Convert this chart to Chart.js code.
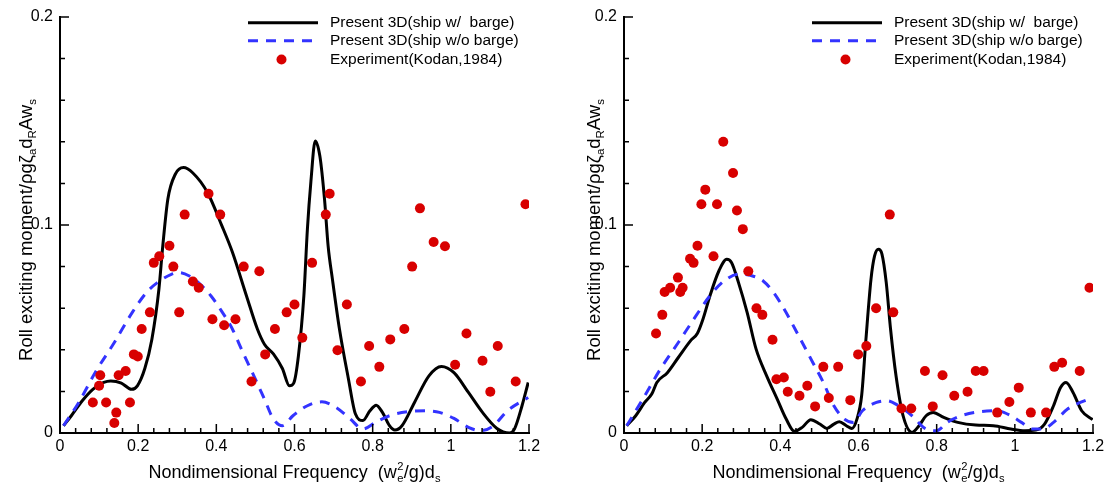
<!DOCTYPE html>
<html><head><meta charset="utf-8">
<script src="https://cdn.jsdelivr.net/npm/chart.js@4.4.1/dist/chart.umd.min.js"></script>
<style>
html,body{margin:0;padding:0;background:#fff;}
#wrap{position:relative;width:1109px;height:488px;overflow:hidden;background:#fff;}
canvas{position:absolute;top:0;}
</style></head><body>
<div id="wrap">
<canvas id="c1" width="555" height="488" style="left:0px"></canvas>
<canvas id="c2" width="554" height="488" style="left:555px"></canvas>
</div>
<script>
// ---------- tick labels ----------
const xTickValues = [0, 0.2, 0.4, 0.6, 0.8, 1.0, 1.2];
const xTickLabels = ['0', '0.2', '0.4', '0.6', '0.8', '1', '1.2'];
const yTickValues = [0, 0.1, 0.2];
const yTickLabels = ['0', '0.1', '0.2'];

// ---------- series names ----------
const seriesNames = ['Present 3D(ship w/  barge)', 'Present 3D(ship w/o barge)', 'Experiment(Kodan,1984)'];

// ---------- LEFT panel ----------
const leftWithX = [0.009,0.029,0.057,0.084,0.112,0.130,0.157,0.183,0.198,0.217,0.235,0.253,0.263,0.276,0.295,0.316,0.340,0.377,0.414,0.441,0.477,0.505,0.523,0.546,0.569,0.587,0.598,0.610,0.624,0.633,0.642,0.653,0.665,0.677,0.686,0.697,0.715,0.738,0.756,0.775,0.793,0.809,0.825,0.843,0.857,0.875,0.907,0.944,0.976,1.008,1.045,1.081,1.118,1.150,1.163,1.182,1.198];
const leftWithY = [0.0035,0.0083,0.0155,0.021,0.0243,0.025,0.024,0.021,0.0227,0.031,0.045,0.069,0.090,0.1125,0.1244,0.1276,0.125,0.1157,0.0997,0.087,0.066,0.050,0.0427,0.038,0.031,0.0227,0.024,0.037,0.066,0.098,0.121,0.1404,0.133,0.112,0.090,0.074,0.050,0.026,0.0091,0.006,0.0107,0.0134,0.0099,0.0035,0.0014,0.0035,0.0147,0.0275,0.032,0.029,0.0195,0.0099,0.0022,0.0,0.002,0.013,0.0243];

const leftWithoutX = [0.009,0.048,0.093,0.139,0.185,0.221,0.249,0.285,0.304,0.331,0.359,0.386,0.413,0.441,0.468,0.496,0.523,0.546,0.569,0.596,0.633,0.670,0.706,0.743,0.775,0.807,0.843,0.889,0.935,0.971,1.008,1.045,1.077,1.109,1.145,1.198];
const leftWithoutY = [0.0035,0.0147,0.030,0.0435,0.058,0.0675,0.0723,0.0763,0.0771,0.0755,0.0715,0.066,0.0587,0.050,0.0387,0.0275,0.0163,0.0067,0.0035,0.0083,0.0131,0.015,0.0123,0.0067,0.0019,0.0051,0.0083,0.0102,0.0107,0.0099,0.007,0.0027,0.0011,0.0035,0.0107,0.0171];

const leftExpX = [0.084,0.100,0.103,0.118,0.139,0.144,0.150,0.168,0.179,0.189,0.199,0.209,0.230,0.240,0.254,0.280,0.290,0.305,0.319,0.340,0.355,0.380,0.390,0.410,0.420,0.449,0.470,0.490,0.510,0.525,0.550,0.580,0.600,0.620,0.645,0.680,0.690,0.710,0.734,0.770,0.791,0.817,0.845,0.881,0.901,0.921,0.956,0.985,1.011,1.040,1.081,1.101,1.120,1.166,1.191];
const leftExpY = [0.0147,0.0227,0.0278,0.0147,0.0048,0.0098,0.0278,0.0298,0.0147,0.0378,0.0368,0.050,0.058,0.0818,0.085,0.090,0.080,0.058,0.105,0.0728,0.0698,0.115,0.0547,0.105,0.0518,0.0547,0.080,0.0248,0.0778,0.0378,0.050,0.058,0.0618,0.0458,0.0818,0.105,0.115,0.0398,0.0618,0.0248,0.0418,0.0318,0.045,0.050,0.080,0.108,0.0918,0.0898,0.0328,0.0478,0.0347,0.0198,0.0418,0.0248,0.110];

// ---------- RIGHT panel ----------
const rightWithX = [0.007,0.030,0.053,0.071,0.084,0.111,0.139,0.170,0.188,0.202,0.220,0.243,0.263,0.275,0.293,0.315,0.338,0.365,0.392,0.415,0.436,0.456,0.478,0.501,0.519,0.537,0.551,0.569,0.583,0.596,0.608,0.619,0.632,0.641,0.651,0.660,0.671,0.682,0.696,0.714,0.737,0.755,0.773,0.791,0.818,0.854,0.900,0.945,0.990,1.026,1.054,1.076,1.099,1.117,1.131,1.149,1.171,1.199];
const rightWithY = [0.0035,0.0083,0.0147,0.0187,0.0243,0.029,0.0363,0.0443,0.048,0.0547,0.066,0.078,0.0835,0.082,0.0723,0.058,0.0403,0.0275,0.0163,0.0067,0.0008,0.0027,0.0064,0.0043,0.0022,0.0043,0.0054,0.0035,0.0022,0.0067,0.0179,0.045,0.074,0.085,0.0883,0.086,0.0723,0.050,0.0275,0.0083,0.0003,0.0035,0.0083,0.0099,0.0075,0.0051,0.0038,0.0035,0.0019,0.0011,0.0014,0.0043,0.0131,0.0219,0.0243,0.0195,0.0107,0.0064];

const rightWithoutX = [0.007,0.048,0.093,0.139,0.184,0.220,0.256,0.293,0.329,0.356,0.383,0.410,0.447,0.483,0.510,0.537,0.564,0.587,0.610,0.646,0.673,0.700,0.737,0.773,0.800,0.827,0.863,0.909,0.954,0.990,1.017,1.045,1.072,1.099,1.135,1.199];
const rightWithoutY = [0.0035,0.0163,0.0307,0.0435,0.0563,0.066,0.0731,0.0763,0.0755,0.0731,0.0675,0.0595,0.0467,0.0339,0.0243,0.0131,0.0067,0.0051,0.0107,0.0147,0.0155,0.0134,0.0083,0.0019,0.0011,0.0051,0.0083,0.0102,0.0107,0.0083,0.0051,0.0019,0.0019,0.0051,0.0115,0.0171];

const rightExpX = [0.082,0.098,0.104,0.118,0.138,0.144,0.150,0.169,0.178,0.188,0.198,0.208,0.229,0.238,0.254,0.279,0.289,0.304,0.318,0.339,0.354,0.380,0.390,0.409,0.419,0.449,0.469,0.489,0.510,0.524,0.548,0.579,0.599,0.620,0.645,0.680,0.689,0.710,0.735,0.770,0.790,0.815,0.845,0.879,0.900,0.920,0.955,0.986,1.010,1.041,1.080,1.101,1.121,1.166,1.191];
const rightExpY = [0.0478,0.0568,0.0678,0.0698,0.0747,0.0678,0.0698,0.0838,0.0818,0.090,0.110,0.117,0.085,0.110,0.140,0.125,0.107,0.098,0.0778,0.060,0.0568,0.0448,0.0258,0.0267,0.0198,0.0179,0.0227,0.0128,0.0318,0.0168,0.0318,0.0158,0.0378,0.0418,0.060,0.105,0.058,0.0118,0.0118,0.0298,0.0128,0.0278,0.0179,0.0198,0.0298,0.0298,0.0098,0.0149,0.0218,0.0098,0.0098,0.0318,0.0338,0.0298,0.0698];

// ---------- helpers ----------
const FONT = '"Liberation Sans", Arial, Helvetica, sans-serif';
const BLACK = '#000000';
const BLUE = '#3333ff';
const RED = '#d80000';

function pts(xs, ys) { return xs.map((x, i) => ({ x: x, y: ys[i] })); }
function labelFor(values, labels, v) {
  for (let i = 0; i < values.length; i++) if (Math.abs(values[i] - v) < 1e-6) return labels[i];
  return '';
}

function richWidth(ctx, segs, size) {
  let w = 0;
  for (const s of segs) {
    if (s.stack) {
      ctx.font = (size * 0.62) + 'px ' + FONT;
      w += Math.max(ctx.measureText(s.stack.sub).width, ctx.measureText(s.stack.sup).width) + 1;
    } else if (s.sub) {
      ctx.font = (size * 0.62) + 'px ' + FONT;
      w += ctx.measureText(s.t).width;
    } else {
      ctx.font = size + 'px ' + FONT;
      w += ctx.measureText(s.t).width;
    }
  }
  return w;
}
function drawRich(ctx, segs, size, cx, baseY) {
  const w = richWidth(ctx, segs, size);
  let x = cx - w / 2;
  ctx.textAlign = 'left';
  ctx.textBaseline = 'alphabetic';
  ctx.fillStyle = '#000';
  for (const s of segs) {
    if (s.stack) {
      ctx.font = (size * 0.62) + 'px ' + FONT;
      ctx.fillText(s.stack.sup, x + 0.5, baseY - size * 0.42);
      ctx.fillText(s.stack.sub, x + 0.5, baseY + size * 0.22);
      x += Math.max(ctx.measureText(s.stack.sub).width, ctx.measureText(s.stack.sup).width) + 1;
    } else if (s.sub) {
      ctx.font = (size * 0.62) + 'px ' + FONT;
      ctx.fillText(s.t, x, baseY + size * 0.22);
      x += ctx.measureText(s.t).width;
    } else {
      ctx.font = size + 'px ' + FONT;
      ctx.fillText(s.t, x, baseY);
      x += ctx.measureText(s.t).width;
    }
  }
}

const xTitleSegs = [{ t: 'Nondimensional Frequency  (w' }, { stack: { sub: 'e', sup: '2' } }, { t: '/g)d' }, { t: 's', sub: true }];
const yTitleSegs = [{ t: 'Roll exciting moment/\u03c1g\u03b6' }, { t: 'a', sub: true }, { t: 'd' }, { t: 'R', sub: true }, { t: 'Aw' }, { t: 's', sub: true }];

const decorPlugin = {
  id: 'decor',
  afterDraw(chart, args, opts) {
    const ctx = chart.ctx, xs = chart.scales.x, ys = chart.scales.y, a = chart.chartArea;
    ctx.save();
    // inward tick marks
    ctx.strokeStyle = '#000';
    ctx.lineWidth = 1.5;
    ctx.beginPath();
    for (let i = 0; i <= 30; i++) {
      const px = xs.getPixelForValue(i * 0.04);
      const len = (i % 5 === 0) ? 9 : 5;
      ctx.moveTo(px, a.bottom);
      ctx.lineTo(px, a.bottom - len);
    }
    for (let i = 0; i <= 10; i++) {
      const py = ys.getPixelForValue(i * 0.02);
      const len = (i % 5 === 0) ? 9 : 5;
      ctx.moveTo(a.left, py);
      ctx.lineTo(a.left + len, py);
    }
    ctx.stroke();

    // legend
    const ds = chart.data.datasets;
    const lx0 = a.left + 188, lx1 = a.left + 258, tx = a.left + 270;
    const rows = [a.top + 5.7, a.top + 23.7, a.top + 42.5];
    const order = [2, 1, 0];
    ctx.font = '15.5px ' + FONT;
    ctx.textAlign = 'left';
    ctx.textBaseline = 'middle';
    order.forEach((di, r) => {
      const d = ds[di];
      const y = rows[r];
      if (d.showLine === false) {
        ctx.beginPath();
        ctx.fillStyle = d.pointBackgroundColor;
        ctx.arc((lx0 + lx1) / 2 - 1.5, y, d.pointRadius, 0, Math.PI * 2);
        ctx.fill();
      } else {
        ctx.beginPath();
        ctx.strokeStyle = d.borderColor;
        ctx.lineWidth = d.borderWidth;
        ctx.setLineDash(d.borderDash || []);
        ctx.moveTo(lx0, y);
        ctx.lineTo(lx1, y);
        ctx.stroke();
        ctx.setLineDash([]);
      }
      ctx.fillStyle = '#000';
      ctx.fillText(d.label, tx, y);
    });

    // axis titles
    drawRich(ctx, xTitleSegs, 18, (a.left + a.right) / 2, 478);
    ctx.translate(opts.yTitleX, (a.top + a.bottom) / 2 + 5);
    ctx.rotate(-Math.PI / 2);
    drawRich(ctx, yTitleSegs, 18.5, 0, 0);
    ctx.restore();
  }
};

function makeChart(canvasId, withPts, withoutPts, expPts, yAxisWidth, padRight, yTitleX) {
  return new Chart(document.getElementById(canvasId), {
    type: 'line',
    data: {
      datasets: [
        { label: seriesNames[2], data: expPts, showLine: false, pointRadius: 5, pointHoverRadius: 5,
          pointBackgroundColor: RED, pointBorderColor: RED, pointBorderWidth: 0, borderColor: RED, backgroundColor: RED },
        { label: seriesNames[1], data: withoutPts, borderColor: BLUE, borderWidth: 3, borderDash: [10, 8],
          pointRadius: 0, cubicInterpolationMode: 'monotone', fill: false },
        { label: seriesNames[0], data: withPts, borderColor: BLACK, borderWidth: 3,
          pointRadius: 0, cubicInterpolationMode: 'monotone', fill: false }
      ]
    },
    options: {
      responsive: false,
      devicePixelRatio: 1,
      animation: false,
      events: [],
      layout: { padding: { left: 0, right: padRight, top: 17, bottom: 0 } },
      plugins: { legend: { display: false }, tooltip: { enabled: false }, title: { display: false }, decor: { yTitleX: yTitleX } },
      scales: {
        x: {
          type: 'linear', min: 0, max: 1.2,
          afterFit: (s) => { s.height = 55; },
          grid: { display: false, drawTicks: false },
          border: { display: true, color: '#000', width: 2 },
          ticks: { stepSize: 0.2, padding: 4, color: '#000', font: { size: 16, family: FONT }, maxRotation: 0,
                   callback: (v) => labelFor(xTickValues, xTickLabels, v) }
        },
        y: {
          type: 'linear', min: 0, max: 0.2,
          afterFit: (s) => { s.width = yAxisWidth; },
          grid: { display: false, drawTicks: false },
          border: { display: true, color: '#000', width: 2 },
          ticks: { stepSize: 0.1, padding: 7, color: '#000', font: { size: 16, family: FONT },
                   callback: (v) => labelFor(yTickValues, yTickLabels, v) }
        }
      }
    },
    plugins: [decorPlugin]
  });
}

makeChart('c1', pts(leftWithX, leftWithY), pts(leftWithoutX, leftWithoutY), pts(leftExpX, leftExpY), 60, 26, 32);
makeChart('c2', pts(rightWithX, rightWithY), pts(rightWithoutX, rightWithoutY), pts(rightExpX, rightExpY), 69, 16, 45);
</script>
</body></html>
